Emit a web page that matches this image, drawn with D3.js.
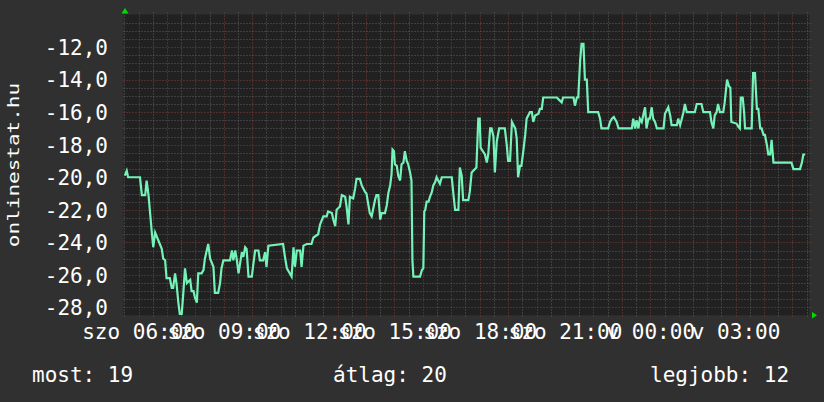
<!DOCTYPE html>
<html>
<head>
<meta charset="utf-8">
<script src="https://cdn.jsdelivr.net/npm/d3@7"></script>
<style>
  body { margin: 0; background: #303030; }
  svg { display: block; }
  text { font-family: "DejaVu Sans Mono", monospace; fill: #ffffff; }
</style>
</head>
<body>
<svg id="chart" width="824" height="402"></svg>
<script>
// minutes since saturday 00:00
var times = [331,335,338,363,367,374,377,381,388,391,395,402,409,412,416,419,426,430,433,437,
  440,444,447,451,454,458,462,469,472,476,479,483,486,493,497,500,507,511,518,521,
  528,532,535,539,553,557,560,564,567,571,578,581,585,588,592,599,602,606,613,616,
  623,627,630,634,665,669,673,683,687,690,694,701,704,708,715,725,729,739,743,750,
  757,760,768,771,775,778,785,789,796,799,803,806,813,817,820,827,831,838,841,845,
  848,852,859,862,866,870,873,880,884,887,891,894,896,899,901,905,908,912,915,919,
  922,926,929,933,936,938,940,954,958,961,963,965,968,972,975,979,982,986,989,996,
  1000,1021,1024,1028,1035,1038,1042,1045,1056,1059,1063,1073,1077,1080,1082,1091,1095,1098,1102,1105,
  1109,1112,1116,1121,1133,1137,1140,1144,1148,1155,1158,1161,1165,1168,1172,1176,1179,1186,1190,1193,
  1197,1204,1207,1211,1214,1243,1246,1253,1256,1278,1281,1285,1288,1292,1295,1299,1302,1306,1309,1330,
  1334,1337,1351,1355,1359,1363,1369,1373,1401,1404,1408,1411,1415,1418,1422,1425,1429,1432,1436,1439,
  1443,1446,1450,1454,1468,1471,1478,1482,1485,1496,1499,1503,1510,1513,1517,1534,1538,1548,1552,1566,
  1569,1573,1576,1580,1583,1587,1594,1597,1602,1606,1609,1611,1622,1626,1629,1631,1635,1638,1640,1654,
  1657,1661,1665,1668,1672,1675,1679,1682,1686,1689,1693,1696,1700,1738,1742,1756,1760,1763,1767];

var values = [-19.9,-19.6,-20.0,-20.0,-21.1,-21.1,-20.2,-21.1,-23.4,-24.3,-23.4,-23.9,-24.4,-25.0,-25.1,-26.2,-26.2,-26.8,-26.8,-25.9,
  -26.5,-27.7,-28.4,-28.4,-27.3,-25.6,-26.5,-26.3,-27.0,-27.0,-27.4,-27.7,-25.9,-25.9,-25.7,-25.0,-24.1,-25.0,-25.5,-27.1,
  -27.1,-26.5,-25.6,-25.1,-25.1,-24.5,-25.1,-24.5,-25.0,-25.9,-24.6,-24.9,-24.3,-24.4,-26.1,-26.1,-25.4,-24.5,-24.5,-25.1,
  -25.1,-24.6,-25.5,-24.2,-24.1,-24.9,-25.6,-26.1,-24.3,-25.5,-24.5,-24.5,-25.5,-24.2,-24.1,-24.1,-23.7,-23.5,-22.9,-22.4,
  -22.4,-22.1,-22.2,-22.6,-23.0,-22.0,-21.8,-21.1,-21.2,-21.8,-22.9,-21.2,-21.3,-20.7,-20.1,-20.1,-20.5,-20.9,-21.0,-21.7,
  -22.2,-22.4,-21.4,-21.1,-21.1,-22.6,-22.2,-22.2,-21.7,-21.0,-20.5,-19.8,-18.3,-18.4,-19.2,-19.3,-19.9,-20.2,-19.2,-19.1,
  -18.4,-19.0,-19.2,-19.7,-20.2,-25.1,-26.1,-26.1,-25.7,-25.6,-22.1,-22.0,-21.5,-21.5,-21.2,-20.9,-20.5,-20.3,-20.0,-20.4,
  -20.0,-20.0,-20.9,-22.0,-22.0,-19.4,-19.9,-21.4,-21.4,-20.9,-19.7,-19.4,-16.4,-16.4,-18.2,-18.6,-19.1,-18.6,-17.0,-17.0,
  -17.5,-19.7,-17.8,-17.0,-17.0,-18.0,-19.0,-19.0,-16.6,-17.0,-17.6,-20.0,-19.3,-19.3,-18.4,-17.4,-16.4,-16.0,-16.0,-16.6,
  -16.2,-16.1,-15.8,-15.8,-15.1,-15.1,-15.2,-15.4,-15.1,-15.1,-15.6,-15.1,-15.1,-12.8,-11.8,-11.8,-14.0,-14.0,-16.0,-16.0,
  -16.4,-17.0,-17.0,-16.6,-16.4,-16.3,-16.6,-17.0,-17.0,-16.4,-17.0,-16.5,-17.0,-16.4,-16.6,-16.2,-15.7,-17.0,-16.4,-16.4,
  -15.7,-16.4,-16.6,-17.0,-17.0,-16.1,-15.7,-16.2,-16.8,-16.8,-16.4,-16.8,-16.0,-15.5,-16.0,-16.0,-15.5,-15.5,-16.0,-16.0,
  -16.6,-17.0,-16.2,-16.0,-15.5,-16.0,-16.0,-15.4,-14.0,-14.4,-14.5,-16.6,-16.7,-16.9,-17.0,-15.1,-15.1,-16.0,-17.0,-17.0,
  -13.6,-13.6,-15.8,-15.8,-17.0,-17.0,-17.4,-17.4,-18.0,-18.6,-18.6,-17.7,-19.1,-19.1,-19.5,-19.5,-19.1,-18.6,-18.6];

var yTicks = [-28, -26, -24, -22, -20, -18, -16, -14, -12];
var xTicks = [360, 540, 720, 900, 1080, 1260, 1440, 1620];
var xTickLabels = ["szo 06:00", "szo 09:00", "szo 12:00", "szo 15:00", "szo 18:00", "szo 21:00", "v 00:00", "v 03:00"];
var legendLabels = ["most: 19", "átlag: 20", "legjobb: 12"];
var yTitle = "onlinestat.hu";

var plot = { left: 123.5, right: 809.3, top: 14.5, bottom: 315.3 };

var svg = d3.select('#chart');

svg.append('rect').attr('width', 824).attr('height', 402).attr('fill', '#303030');
svg.append('rect')
   .attr('x', plot.left).attr('y', plot.top)
   .attr('width', plot.right - plot.left).attr('height', plot.bottom - plot.top)
   .attr('fill', '#212121');

var x = d3.scaleLinear().domain([328.2, 1775.6]).range([plot.left, plot.right]);
var y = d3.scaleLinear().domain([-28.48, -10]).range([plot.bottom, plot.top]);

// grid: minor every 30 min / 0.5, major every 60 min / 2
var vMinor = d3.range(330, 1776, 30).filter(function (m) { return m % 60 !== 0; });
var vMajor = d3.range(360, 1776, 60);
var hMinor = d3.range(-28, -10, 0.5).filter(function (v) { return v % 2 !== 0; });

var grid = svg.append('g').attr('stroke-dasharray', '1,2').attr('stroke-width', 1);

grid.selectAll('line.vminor').data(vMinor).enter().append('line')
    .attr('x1', function (d) { return Math.round(x(d)) + 0.5; })
    .attr('x2', function (d) { return Math.round(x(d)) + 0.5; })
    .attr('y1', plot.top - 2).attr('y2', plot.bottom + 2)
    .attr('stroke', '#5e5e5e');
grid.selectAll('line.hminor').data(hMinor).enter().append('line')
    .attr('y1', function (d) { return Math.round(y(d)) + 0.5; })
    .attr('y2', function (d) { return Math.round(y(d)) + 0.5; })
    .attr('x1', plot.left).attr('x2', plot.right + 2)
    .attr('stroke', '#5e5e5e');
grid.selectAll('line.vmajor').data(vMajor).enter().append('line')
    .attr('x1', function (d) { return Math.round(x(d)) + 0.5; })
    .attr('x2', function (d) { return Math.round(x(d)) + 0.5; })
    .attr('y1', plot.top - 2).attr('y2', plot.bottom + 2)
    .attr('stroke', '#7e3c3c');
grid.selectAll('line.hmajor').data(yTicks).enter().append('line')
    .attr('y1', function (d) { return Math.round(y(d)) + 0.5; })
    .attr('y2', function (d) { return Math.round(y(d)) + 0.5; })
    .attr('x1', plot.left).attr('x2', plot.right + 2)
    .attr('stroke', '#7e3c3c');

// axes (labels only)
var yAxis = d3.axisLeft(y)
              .tickValues(yTicks)
              .tickSize(0)
              .tickPadding(0)
              .tickFormat(function (d) { return d.toFixed(1).replace('.', ','); });
var yg = svg.append('g').attr('transform', 'translate(108,0)').call(yAxis);
yg.select('.domain').remove();
yg.selectAll('text')
  .style('font-family', '"DejaVu Sans Mono", monospace')
  .style('font-size', '21px')
  .attr('fill', '#ffffff')
  .attr('dy', '0.35em');

var xAxis = d3.axisBottom(x)
              .tickValues(xTicks)
              .tickSize(0)
              .tickPadding(0)
              .tickFormat(function (d, i) { return xTickLabels[i]; });
var xg = svg.append('g').attr('transform', 'translate(0,338.5)').call(xAxis);
xg.select('.domain').remove();
xg.selectAll('text')
  .style('font-family', '"DejaVu Sans Mono", monospace')
  .style('font-size', '21px')
  .attr('fill', '#ffffff')
  .attr('y', 0)
  .attr('dy', 0);

// data line
var pts = times.map(function (t, i) { return [t, values[i]]; });
svg.append('clipPath').attr('id', 'clip')
   .append('rect')
   .attr('x', plot.left).attr('y', plot.top)
   .attr('width', plot.right - plot.left).attr('height', plot.bottom - plot.top + 1);

svg.append('path')
   .datum(pts)
   .attr('clip-path', 'url(#clip)')
   .attr('fill', 'none')
   .attr('stroke', '#74f2b8')
   .attr('stroke-width', 2.2)
   .attr('stroke-linejoin', 'miter')
   .attr('d', d3.line()
               .x(function (d) { return x(d[0]); })
               .y(function (d) { return y(d[1]); }));

// arrows
svg.append('path').attr('d', 'M121.5,13.5 L125,8 L128.5,13.5 Z').attr('fill', '#00dd00');
svg.append('path').attr('d', 'M812,312 L817,315.3 L812,318.6 Z').attr('fill', '#00dd00');

// y title
svg.append('text')
   .attr('transform', 'translate(18.5,165) rotate(-90) scale(1,0.76)')
   .attr('text-anchor', 'middle')
   .style('font-size', '21px')
   .text(yTitle);

// legend
var legendX = [32, 333, 650];
svg.selectAll('text.legend').data(legendLabels).enter().append('text')
   .attr('class', 'legend')
   .attr('x', function (d, i) { return legendX[i]; })
   .attr('y', 382)
   .style('font-size', '21px')
   .text(function (d) { return d; });
</script>
</body>
</html>
